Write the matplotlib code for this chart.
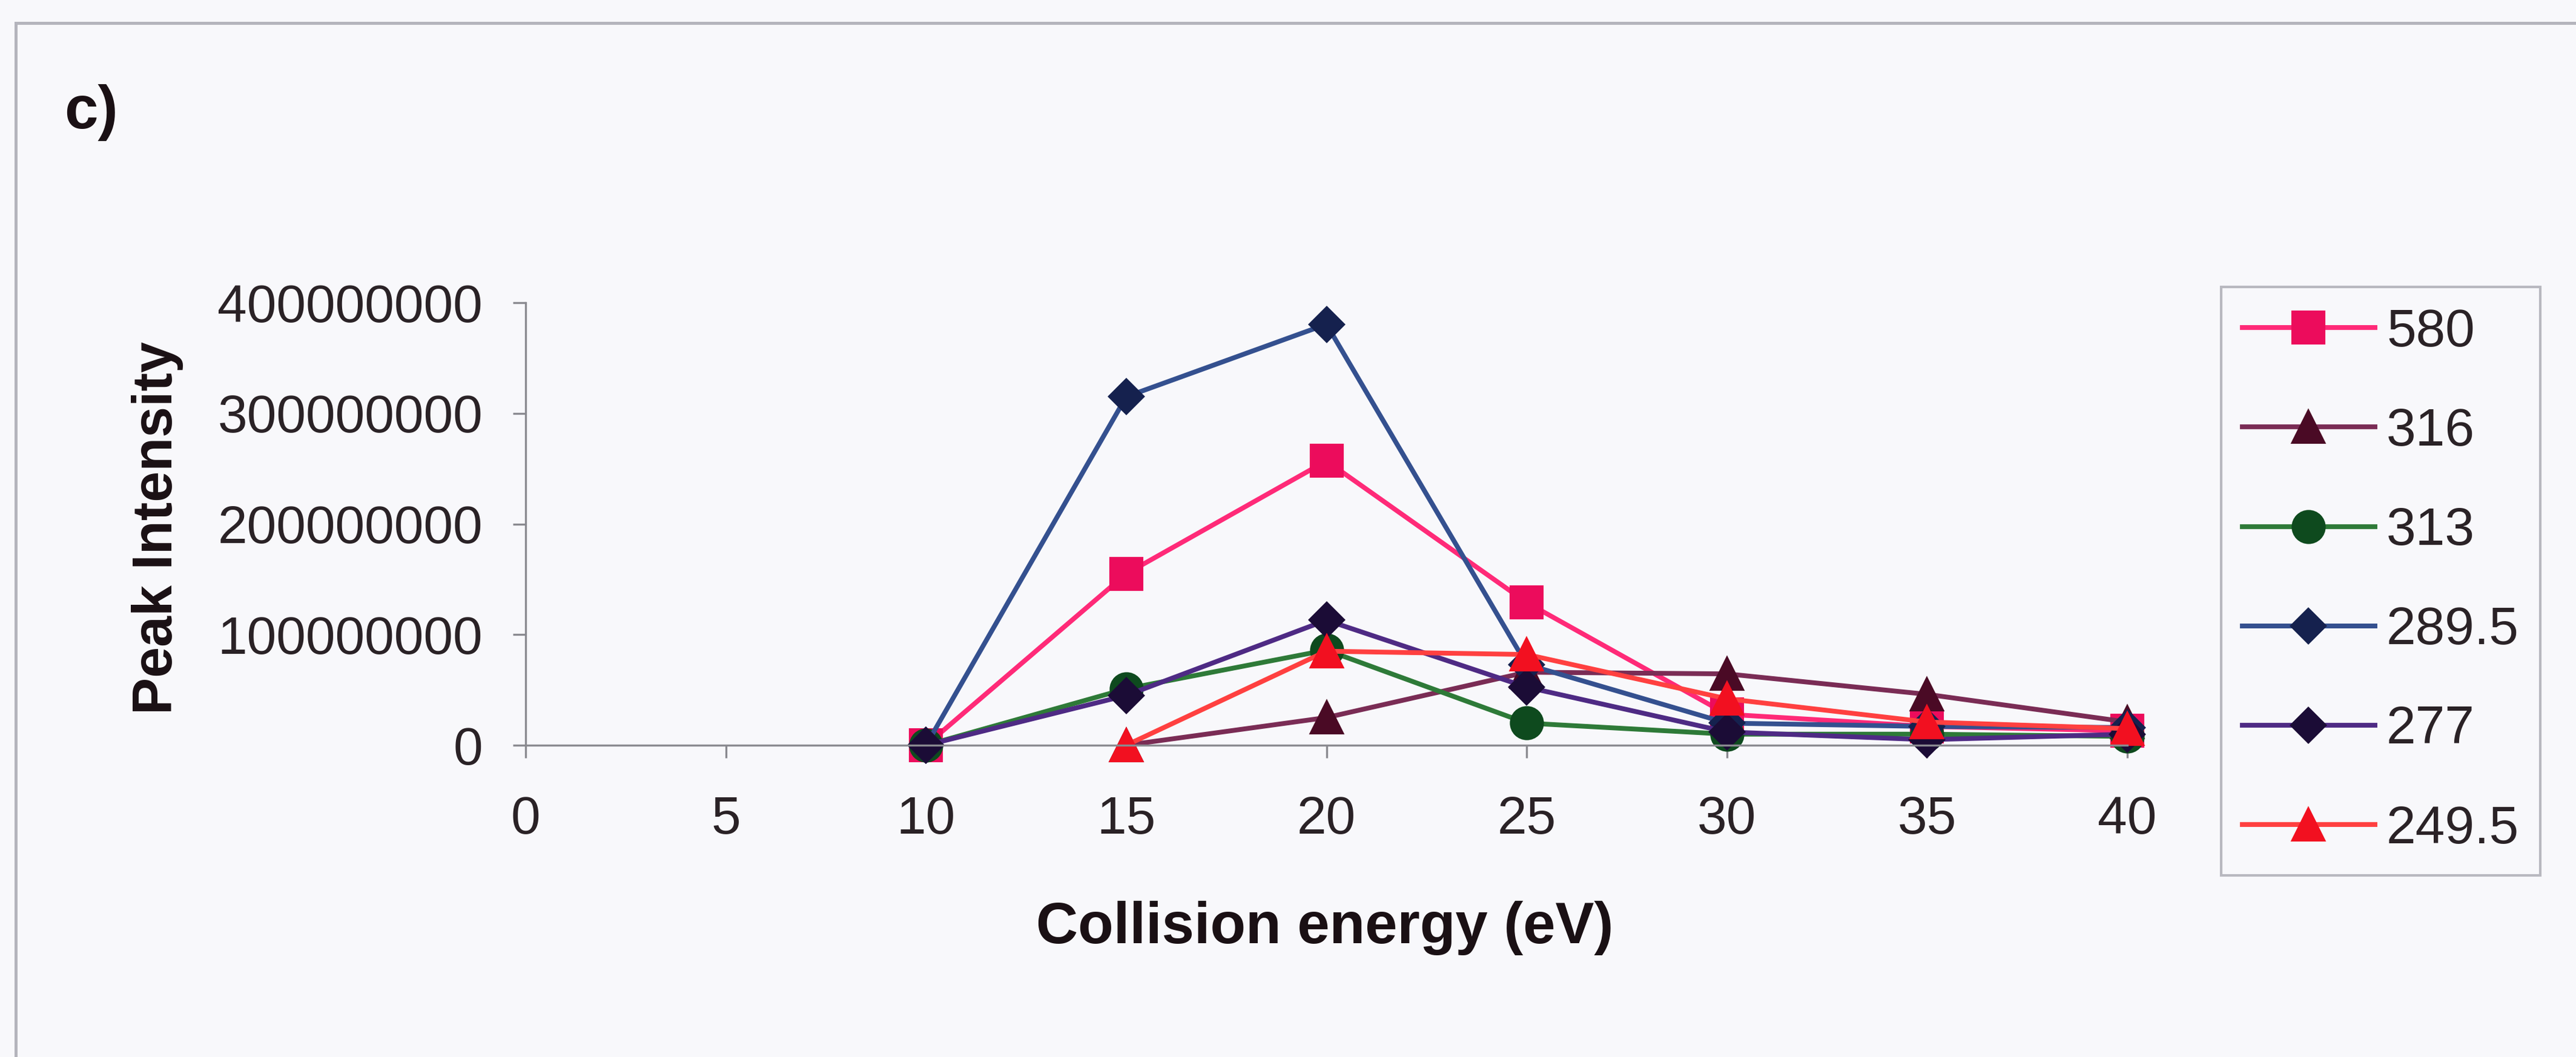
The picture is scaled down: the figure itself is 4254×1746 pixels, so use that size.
import numpy as np
import matplotlib
matplotlib.use("Agg")
import matplotlib.pyplot as plt
from matplotlib.lines import Line2D
from matplotlib.ticker import FuncFormatter

plt.rcParams['font.family'] = ['Liberation Sans', 'DejaVu Sans']

# collision energies (eV) and peak intensities per fragment ion
energy = [10, 15, 20, 25, 30, 35, 40]

ion_labels = ["580", "316", "313", "289.5", "277", "249.5"]
peak_580 = [0, 1.55e8, 2.57e8, 1.29e8, 0.28e8, 0.17e8, 0.13e8]
peak_316 = [np.nan, 0, 0.25e8, 0.66e8, 0.645e8, 0.46e8, 0.21e8]
peak_313 = [0, 0.51e8, 0.86e8, 0.20e8, 0.10e8, 0.10e8, 0.08e8]
peak_289 = [0, 3.15e8, 3.805e8, 0.73e8, 0.20e8, 0.17e8, 0.16e8]
peak_277 = [0, 0.45e8, 1.13e8, 0.525e8, 0.12e8, 0.05e8, 0.10e8]
peak_249 = [np.nan, 0, 0.85e8, 0.82e8, 0.42e8, 0.21e8, 0.15e8]

x_ticks = [0, 5, 10, 15, 20, 25, 30, 35, 40]
y_ticks = [0, 1e8, 2e8, 3e8, 4e8]

# (line colour, marker colour, marker, marker size)
styles = [
    ("#FF2A78", "#EC0C5C", "s", 12.5),
    ("#7A2C55", "#4A0A25", "^", 12.5),
    ("#2E7A38", "#0E4A1E", "o", 12.5),
    ("#34508F", "#15214E", "D", 9.5),
    ("#4E2A84", "#1B0C36", "D", 9.5),
    ("#FF4040", "#F21020", "^", 12.5),
]
series = [peak_580, peak_316, peak_313, peak_289, peak_277, peak_249]

bg = "#F8F8FB"
W, H = 4254, 1746
fig = plt.figure(figsize=(W / 300, H / 300), dpi=300, facecolor=bg)

ax = fig.add_axes([868 / W, 1 - 1231 / H, (3513 - 868) / W, (1231 - 500) / H])
ax.set_facecolor(bg)

handles = []
for vals, lab, (lc, mc, mk, ms) in zip(series, ion_labels, styles):
    h, = ax.plot(energy, vals, color=lc, lw=1.9, marker=mk, ms=ms,
                 markerfacecolor=mc, markeredgecolor=mc, label=lab, clip_on=False)
    handles.append(h)

ax.set_xlim(0, 40)
ax.set_ylim(0, 4e8)
ax.set_xticks(x_ticks)
ax.set_yticks(y_ticks)
ax.yaxis.set_major_formatter(FuncFormatter(lambda v, p: f"{int(round(v))}"))

for s in ["top", "right"]:
    ax.spines[s].set_visible(False)
for s in ["left", "bottom"]:
    ax.spines[s].set_color("#8A8A90")
    ax.spines[s].set_linewidth(0.8)

ax.tick_params(axis="both", direction="out", length=5, width=0.8, color="#8A8A90",
               labelsize=21, labelcolor="#2A2226")
ax.tick_params(axis="y", pad=12)
ax.tick_params(axis="x", pad=15)

fig.text(260 / W, 1 - 872 / H, "Peak Intensity", rotation=90, ha="center", va="center",
         fontsize=22, fontweight="bold", color="#1A1014")
fig.text(2188 / W, 1 - 1533 / H, "Collision energy (eV)", ha="center", va="center",
         fontsize=23, fontweight="bold", color="#1A1014")
fig.text(106 / W, 1 - 212 / H, "c)", ha="left", va="baseline",
         fontsize=24, fontweight="bold", color="#1A1014")

leg = fig.legend(handles=handles, loc="upper left",
                 bbox_to_anchor=(3668 / W, 1 - 474 / H), bbox_transform=fig.transFigure,
                 fontsize=21, frameon=True, fancybox=False, handlelength=2.5,
                 handletextpad=0.22, labelspacing=0.95, borderpad=0.4, borderaxespad=0)
leg.get_frame().set_edgecolor("#A8A8B0")
leg.get_frame().set_linewidth(1.0)
leg.get_frame().set_facecolor(bg)
for t in leg.get_texts():
    t.set_color("#2A2226")

# outer panel border, top and left edges
fig.add_artist(Line2D([26 / W, 1.0], [1 - 38 / H, 1 - 38 / H], transform=fig.transFigure,
                      color="#B4B4BC", lw=1.2))
fig.add_artist(Line2D([26 / W, 26 / W], [0.0, 1 - 38 / H], transform=fig.transFigure,
                      color="#B4B4BC", lw=1.2))

fig.savefig("out.png", dpi=300, facecolor=bg)
